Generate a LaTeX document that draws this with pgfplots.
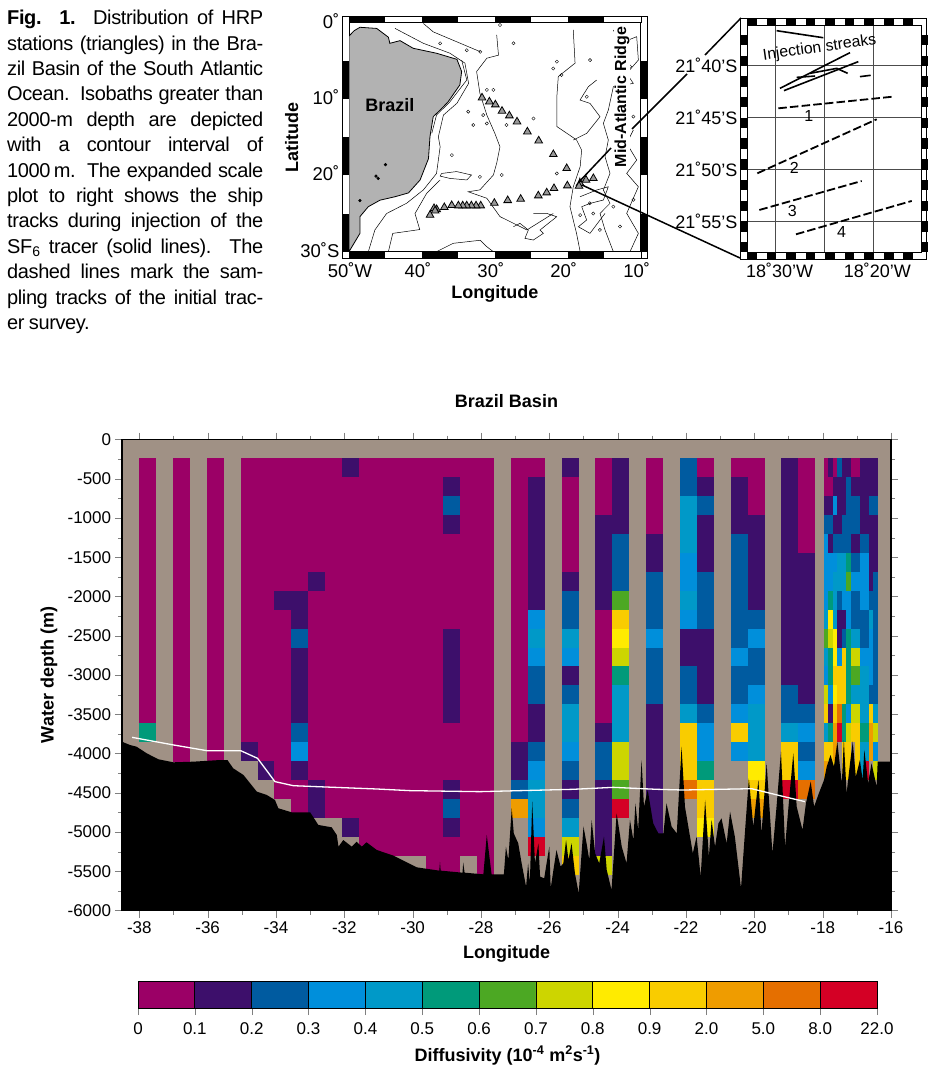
\documentclass[border=0pt]{standalone}
\usepackage{fontspec}
\setmainfont{Liberation Sans}
\newfontfamily\capfont[LetterSpace=-2]{Liberation Sans}
\usepackage{pgfplots}
\pgfplotsset{compat=1.18}
\definecolor{BG}{RGB}{160,145,133}
\definecolor{L0}{RGB}{155,0,102}
\definecolor{L1}{RGB}{61,15,107}
\definecolor{L2}{RGB}{0,91,160}
\definecolor{L3}{RGB}{0,143,219}
\definecolor{L4}{RGB}{0,153,200}
\definecolor{L5}{RGB}{0,154,122}
\definecolor{L6}{RGB}{76,168,35}
\definecolor{L7}{RGB}{205,213,0}
\definecolor{L8}{RGB}{255,235,0}
\definecolor{L9}{RGB}{249,204,0}
\definecolor{L10}{RGB}{239,156,0}
\definecolor{L11}{RGB}{229,111,0}
\definecolor{L12}{RGB}{212,0,37}
\newdimen\rowh \rowh=18.95pt
\pgfdeclareplotmark{cell}{\pgfpathrectangle{\pgfpoint{-8.5pt}{0pt}}{\pgfpoint{17pt}{-\nr\rowh}}\pgfusepathqfill}
\pgfdeclareplotmark{fcell}{\pgfpathrectangle{\pgfpoint{-2.28pt}{0pt}}{\pgfpoint{4.56pt}{-\nr\rowh}}\pgfusepathqfill}
\pgfplotsset{cellclass/.style={scatter, only marks, scatter src=explicit symbolic,
  visualization depends on=value \thisrow{n} \as \nr,
  scatter/classes={0={mark=#1,L0},1={mark=#1,L1},2={mark=#1,L2},3={mark=#1,L3},4={mark=#1,L4},5={mark=#1,L5},6={mark=#1,L6},7={mark=#1,L7},8={mark=#1,L8},9={mark=#1,L9},10={mark=#1,L10},11={mark=#1,L11},12={mark=#1,L12}}}}
\newcommand{\JL}[1]{\hbox to 256pt{#1}}
\begin{document}
\begin{tikzpicture}
\useasboundingbox (0pt,0pt) rectangle (927pt,-1065pt);
% caption
\node[anchor=north west,inner sep=0pt,font=\capfont\fontsize{20pt}{25.4pt}\selectfont] at (7pt,-10pt) {\vbox{\hsize=256pt\baselineskip=25.4pt\parindent=0pt\spaceskip=0.22em plus 1.5em minus 0.12em
\JL{\textbf{Fig. 1.} Distribution of HRP}
\JL{stations (triangles) in the Bra-}
\JL{zil Basin of the South Atlantic}
\JL{Ocean. Isobaths greater than}
\JL{2000-m depth are depicted}
\JL{with a contour interval of}
\JL{1000\,m. The expanded scale}
\JL{plot to right shows the ship}
\JL{tracks during injection of the}
\JL{SF\textsubscript{6} tracer (solid lines). The}
\JL{dashed lines mark the sam-}
\JL{pling tracks of the initial trac-}
\hbox{er survey.}}};
% map
\begin{axis}[at={(349pt,-251.7pt)},anchor=south west,scale only axis,width=291.7pt,height=229pt,
 xmin=-50,xmax=-10,ymin=-30,ymax=0,major tick length=0pt,
 xtick={-50,-40,-30,-20,-10},xticklabels={\hspace{10pt}50˚W,40˚,30˚,20˚,10˚},
 ytick={0,-10,-20,-30},yticklabels={0˚,10˚,20˚,30˚S},
 ticklabel style={font=\fontsize{18.5pt}{18.5pt}\selectfont},
 xticklabel style={yshift=-7pt,xshift=-4pt},yticklabel style={xshift=-6pt,yshift=2pt},
 xlabel={\textbf{Longitude}},ylabel={\textbf{Latitude}},
 label style={font=\fontsize{18pt}{18pt}\selectfont},
 xlabel style={yshift=-1pt},ylabel style={yshift=-5pt},line width=0.6pt]
\addplot[fill=black!30,draw=black,line width=0.8pt] coordinates {(-50,-1.75)(-49.3,-1.05)(-48.5,-.6)(-46.2,-.75)(-44.6,-1.9)(-44.4,-2.7)(-43,-2.35)(-41.2,-3.35)(-38,-4)(-35.2,-4.8)(-34.55,-6.4)(-34.8,-8.15)(-36.4,-10.35)(-37.5,-11.45)(-38.45,-12.3)(-38.9,-14.95)(-39.1,-17.8)(-40.25,-20.6)(-41.85,-22.3)(-43.7,-22.8)(-45.75,-23.25)(-47.35,-24.1)(-48.5,-25.4)(-48.5,-27.6)(-50,-30)(-50,-1.75)};
\addplot[black,line width=0.5pt] coordinates {(-43.7,-.74)(-39.8,-2.7)(-36.15,-4)(-34.1,-5.3)(-33.6,-7.95)(-35.2,-10.55)(-37.05,-12.1)(-37.75,-14.95)(-37.5,-16.25)(-38,-19.75)(-39.8,-21.9)(-42.1,-23.65)(-44.85,-25)(-46.45,-27.15)(-47.35,-30)};
\addplot[black,line width=0.5pt] coordinates {(-34.55,-4.9)(-33.85,-7.5)(-36.15,-10.35)(-38,-12.1)(-38.65,-14.5)};
\addplot[black,line width=0.5pt] coordinates {(-37.5,-20.6)(-39.35,-22.35)(-40.95,-25)(-40.3,-27.1)(-44,-27.6)(-44.6,-30)};
\addplot[black,line width=0.5pt] coordinates {(-29.75,-1.6)(-29.5,-4.25)(-31.1,-4.65)(-32.5,-6.4)(-32.05,-9.25)(-31.1,-12.1)(-30,-14.5)(-29.3,-16.25)(-29.75,-18.4)(-30.2,-19.95)(-32.05,-21.9)(-33.65,-22.15)(-31.1,-23)(-29.3,-25.4)(-25.6,-27.15)(-22,-25)};
\addplot[black,line width=0.5pt] coordinates {(-19.25,-.95)(-19,-5.3)(-21.3,-7.05)(-21.5,-9.7)(-21.5,-13.6)(-18.8,-15.35)(-18.1,-16.7)(-18.3,-18.85)(-19.25,-21.5)(-19.7,-24.1)(-18.8,-27.6)(-18.3,-30)};
\addplot[black,line width=0.5pt] coordinates {(-13.75,-.96)(-12.84,-2.71)(-10.55,-1.83)(-10.32,-4.89)(-11.92,-6.64)(-11.01,-7.95)(-13.75,-8.38)(-14.44,-11.44)(-15.12,-13.19)(-14.44,-15.37)(-14.89,-17.56)(-14.21,-19.74)(-15.12,-21.92)(-14.21,-23.67)(-15.58,-24.98)(-14.89,-27.16)(-13.75,-30)};
\addplot[black,line width=0.5pt] coordinates {(-18.32,-22.8)(-16.04,-21.92)(-14.44,-21.49)(-15.12,-23.23)(-16.95,-23.67)(-18.09,-24.11)(-17.41,-25.85)(-18.55,-26.73)(-16.95,-27.6)(-15.58,-25.85)(-14.89,-24.98)};
\addplot[black,line width=0.5pt] coordinates {(-27.46,-26.73)(-26.55,-26.29)(-25.41,-27.16)(-25.87,-28.25)(-24.72,-28.47)(-23.35,-27.6)(-23.81,-27.16)(-21.52,-25.42)(-22.89,-24.98)(-24.72,-24.98)};
\addplot[black,line width=0.5pt] coordinates {(-11.01,-14.06)(-11.92,-15.81)(-10.55,-17.99)(-11.92,-19.74)(-10.32,-21.49)(-11.92,-24.98)(-10.32,-27.6)(-11.47,-30)};
\addplot[black,line width=0.5pt] coordinates {(-19.24,-15.37)(-17.41,-14.5)(-15.58,-12.32)(-16.95,-10.57)(-18.32,-10.13)(-17.18,-8.38)(-16.04,-7.51)};
\addplot[black,line width=0.5pt] coordinates {(-38,-30)(-35.7,-28.9)(-32,-28.5)(-31.1,-29.35)(-30.2,-30)};
\addplot[black,line width=0.5pt] coordinates {(-37.3,-19.75)(-35.25,-19.5)(-33.2,-19.95)(-33.85,-20.6)(-36.15,-20.4)(-37.5,-20.1)(-37.3,-19.75)};
\addplot[black,line width=0.5pt] coordinates {(-39.8,-.1)(-38.45,-1.2)(-32,-3.8)};
\addplot[only marks,mark=o,mark size=1.6pt,mark options={line width=0.4pt,black}] coordinates {(-32.05,-20.2)(-29.05,-19.95)(-31.1,-8.8)(-30.2,-8.8)(-33.65,-11.65)(-31.6,-12.1)(-31.1,-13.2)(-28.4,-13.4)(-24.7,-12.55)(-21.5,-5.1)(-22,-6)(-20.85,-6.85)(-17.4,-9.7)(-21.5,-19.75)(-35.9,-17.35)(-32.95,-13.4)(-16.5,-25)(-18.3,-25.2)(-17,-23.65)(-15.6,-27.15)(-11.45,-5.75)(-11,-12.3)(-11.9,-7.05)(-13.75,-24.1)(-12.85,-26.7)(-11,-23.2)(-16.95,-4.9)(-27.45,-2.7)(-33.85,-3.6)(-32,-3.8)(-37.5,-2.7)(-29.3,-.3)};
\addplot[only marks,mark=*,mark size=1.3pt,black] coordinates {(-45,-18.6)(-46,-20.4)(-46.3,-20.1)(-48.5,-23.3)};
\addplot[only marks,mark=triangle*,mark size=4.4pt,mark options={fill=black!40,draw=black,line width=0.8pt}] coordinates {(-31.76,-9.83)(-30.75,-10.35)(-29.93,-10.74)(-29.02,-11.57)(-28.01,-12.18)(-26.96,-12.97)(-25.54,-14.28)(-23.99,-15.46)(-21.98,-17.25)(-20.15,-19.08)(-20.06,-21.35)(-18.32,-21.05)(-17.5,-20.61)(-16.49,-20.39)(-18.46,-21.4)(-21.89,-21.7)(-22.89,-22.27)(-24.04,-22.66)(-26.46,-23.1)(-28.24,-23.28)(-30.07,-23.63)(-31.94,-23.97)(-32.58,-23.97)(-33.22,-23.97)(-33.86,-23.97)(-34.41,-23.97)(-35,-23.97)(-35.92,-23.93)(-36.93,-24.19)(-37.98,-24.46)(-38.34,-24.32)(-38.2,-24.63)(-38.89,-25.2)};
\node[font=\bfseries\fontsize{18pt}{18pt}\selectfont] at (axis cs:-44.4,-10.8) {Brazil};
\end{axis}
% inset
\begin{axis}[at={(747pt,-252.3pt)},anchor=south west,scale only axis,width=174.7pt,height=227.3pt,
 xmin=-32.935,xmax=-15.05,ymin=-58.03,ymax=-36.07,major tick length=0pt,line width=0.6pt,
 xtick={-30,-25,-20},xticklabels={18˚30'W,,18˚20'W},
 ytick={-40,-45,-50,-55},yticklabels={21˚40'S,21˚45'S,21˚50'S,21˚55'S},
 ticklabel style={font=\fontsize{18pt}{18pt}\selectfont},
 xticklabel style={yshift=-7pt,xshift=4pt},yticklabel style={xshift=-6pt},
 grid=major,grid style={black!70,line width=0.4pt}]
\addplot[black,line width=1.6pt] coordinates {(-29.9,-36.62)(-25.12,-37.3)};
\addplot[black,line width=1.6pt] coordinates {(-29.56,-42.19)(-22.39,-38.74)};
\addplot[black,line width=1.6pt] coordinates {(-29.15,-42.41)(-21.54,-39.61)};
\addplot[black,line width=1.6pt] coordinates {(-27.85,-41.13)(-25.97,-41)};
\addplot[black,line width=1.6pt] coordinates {(-26.48,-40.74)(-23.75,-40.26)(-22.63,-40.74)};
\addplot[black,line width=1.6pt] coordinates {(-21.37,-41.06)(-20.27,-40.93)};
\addplot[black,line width=1.8pt,dash pattern=on 8.5pt off 3.2pt] coordinates {(-29.73,-44.12)(-17.95,-42.99)};
\addplot[black,line width=1.8pt,dash pattern=on 8.5pt off 3.2pt] coordinates {(-31.88,-50.4)(-19.66,-45.18)};
\addplot[black,line width=1.8pt,dash pattern=on 8.5pt off 3.2pt] coordinates {(-31.67,-53.94)(-21.19,-51.14)};
\addplot[black,line width=1.8pt,dash pattern=on 8.5pt off 3.2pt] coordinates {(-27.92,-56.29)(-16.07,-53.07)};
\node[font=\fontsize{15.8pt}{15.8pt}\selectfont,rotate=8,inner sep=0.5pt] at (axis cs:-25.5,-38.3) {Injection streaks};
\node[font=\fontsize{16pt}{16pt}\selectfont] at (axis cs:-26.6,-44.9) {1};
\node[font=\fontsize{16pt}{16pt}\selectfont] at (axis cs:-28.1,-49.9) {2};
\node[font=\fontsize{16pt}{16pt}\selectfont] at (axis cs:-28.3,-54.05) {3};
\node[font=\fontsize{16pt}{16pt}\selectfont] at (axis cs:-23.25,-56.1) {4};
\end{axis}
% diffusivity cells, under the main axis
\begin{axis}[at={(122pt,-910.5pt)},anchor=south west,scale only axis,width=769pt,height=471pt,
 xmin=-38.506,xmax=-16,ymin=-6000,ymax=0,hide axis]
\addplot[fill=BG,draw=none] coordinates {(-38.506,-6000)(-16,-6000)(-16,0)(-38.506,0)(-38.506,-6000)};
\addplot[cellclass=cell] table[row sep=\\,x expr={-38+0.4945*(\thisrow{c}+0.5)},y expr={-240-241*\thisrow{r}},meta=m] {
c r n m\\
0 0 14 0\\0 14 1 5\\
2 0 16 0\\4 0 16 0\\
6 0 15 0\\6 15 1 1\\
7 0 16 0\\7 16 1 1\\
8 0 7 0\\8 7 1 1\\8 8 10 0\\
9 0 7 0\\9 7 2 1\\9 9 1 2\\9 10 4 1\\9 14 1 2\\9 15 1 3\\9 16 1 1\\9 17 2 0\\
10 0 6 0\\10 6 1 1\\10 7 10 0\\10 17 2 1\\
11 0 19 0\\
12 0 1 1\\12 1 18 0\\12 19 1 1\\
13 0 21 0\\14 0 21 0\\15 0 21 0\\16 0 21 0\\17 0 22 0\\
18 0 1 0\\18 1 1 1\\18 2 1 2\\18 3 1 1\\18 4 5 0\\18 9 5 1\\18 14 3 0\\18 17 1 1\\18 18 1 2\\18 19 1 1\\18 20 2 0\\
19 0 21 0\\20 0 22 0\\
22 0 15 0\\22 15 2 1\\22 17 1 2\\22 18 1 10\\
23 0 1 0\\23 1 7 1\\23 8 1 3\\23 9 1 4\\23 10 1 3\\23 11 2 2\\23 13 2 1\\23 15 1 2\\23 16 1 3\\23 17 2 4\\23 19 1 3\\23 20 1 12\\
25 0 1 1\\25 1 5 0\\25 6 1 1\\25 7 2 2\\25 9 1 4\\25 10 1 3\\25 11 1 1\\25 12 1 2\\25 13 2 4\\25 15 1 3\\25 16 1 2\\25 17 1 1\\25 18 1 2\\25 19 1 4\\25 20 1 7\\25 21 1 9\\
27 0 3 0\\27 3 5 1\\27 8 6 0\\27 14 1 1\\27 15 2 2\\27 17 4 1\\27 21 1 7\\
28 0 4 1\\28 4 3 2\\28 7 1 6\\28 8 1 9\\28 9 1 8\\28 10 1 7\\28 11 1 5\\28 12 3 4\\28 15 2 7\\28 17 1 6\\28 18 1 12\\
30 0 4 0\\30 4 2 1\\30 6 3 2\\30 9 1 3\\30 10 3 2\\30 13 7 1\\
32 0 2 2\\32 2 3 4\\32 5 2 3\\32 7 1 4\\32 8 1 3\\32 9 2 1\\32 11 2 2\\32 13 1 4\\32 14 3 9\\32 17 1 11\\
33 0 1 0\\33 1 1 1\\33 2 1 2\\33 3 3 1\\33 6 3 2\\33 9 4 1\\33 13 1 2\\33 14 2 3\\33 16 1 5\\33 17 2 9\\33 19 1 8\\
35 0 1 0\\35 1 3 1\\35 4 6 2\\35 10 1 3\\35 11 2 2\\35 13 1 3\\35 14 1 9\\35 15 1 3\\
36 0 3 0\\36 3 5 1\\36 8 1 2\\36 9 1 3\\36 10 2 2\\36 12 1 3\\36 13 3 4\\36 16 1 8\\36 17 1 9\\36 18 1 10\\
38 0 12 1\\38 12 2 2\\38 14 1 4\\38 15 2 9\\38 17 1 12\\
39 0 5 0\\39 5 8 1\\39 13 1 2\\39 14 1 3\\39 15 1 2\\39 16 1 3\\39 17 1 11\\
};
\addplot[cellclass=fcell] table[row sep=\\,x expr={-17.96+0.1307*(\thisrow{c}+0.5)},y expr={-240-241*\thisrow{r}},meta=m] {
c r n m\\
0 0 2 0\\0 2 1 1\\0 3 1 2\\0 4 4 3\\0 8 1 4\\0 9 1 6\\0 10 1 4\\0 11 1 3\\0 12 1 7\\0 13 1 9\\0 14 1 4\\0 15 1 9\\0 16 1 10\\
1 0 1 1\\1 1 1 0\\1 2 1 1\\1 3 1 2\\1 4 1 1\\1 5 2 3\\1 7 1 5\\1 8 1 8\\1 9 1 7\\1 10 2 5\\1 12 1 3\\1 13 1 1\\1 14 1 5\\1 15 2 9\\
2 0 1 0\\2 1 1 1\\2 2 1 3\\2 3 1 1\\2 4 1 2\\2 5 1 3\\2 6 3 4\\2 9 2 8\\2 11 1 9\\2 12 1 8\\2 13 1 9\\2 14 2 10\\2 16 1 9\\
3 0 1 2\\3 1 3 1\\3 4 1 2\\3 5 2 4\\3 7 1 2\\3 8 2 1\\3 10 1 3\\3 11 2 9\\3 13 1 11\\3 14 1 12\\
4 0 3 1\\4 3 2 2\\4 5 2 4\\4 7 1 3\\4 8 1 1\\4 9 1 2\\4 10 3 9\\4 13 2 5\\4 15 2 9\\
5 0 1 1\\5 1 4 2\\5 5 1 5\\5 6 1 6\\5 7 2 3\\5 9 4 5\\5 13 1 3\\5 14 1 7\\5 15 2 9\\
6 0 1 0\\6 1 1 1\\6 2 2 2\\6 4 1 1\\6 5 1 2\\6 6 1 3\\6 7 2 2\\6 9 1 4\\6 10 1 7\\6 11 1 6\\6 12 1 4\\6 13 1 7\\6 14 1 9\\
7 0 1 0\\7 1 1 1\\7 2 2 2\\7 4 1 1\\7 5 1 2\\7 6 1 3\\7 7 2 2\\7 9 1 4\\7 10 1 7\\7 11 1 6\\7 12 1 4\\7 13 1 7\\7 14 3 9\\
8 0 4 1\\8 4 1 2\\8 5 3 3\\8 8 2 2\\8 10 1 3\\8 11 3 4\\8 14 1 5\\8 15 2 4\\
9 0 4 1\\9 4 1 2\\9 5 3 3\\9 8 2 2\\9 10 1 3\\9 11 3 4\\9 14 1 5\\9 15 1 4\\9 16 1 12\\
10 0 2 1\\10 2 1 2\\10 3 4 1\\10 7 1 2\\10 8 1 4\\10 9 3 3\\10 12 1 2\\10 13 1 9\\10 14 2 10\\
11 0 2 1\\11 2 1 2\\11 3 3 1\\11 6 7 2\\11 13 1 4\\11 14 1 7\\11 15 1 3\\11 16 1 7\\
};
\end{axis}
% main
\begin{axis}[at={(122pt,-910.5pt)},anchor=south west,scale only axis,width=769pt,height=471pt,
 xmin=-38.506,xmax=-16,ymin=-6000,ymax=0,axis on top,
 tick align=outside,tick pos=both,major tick length=7pt,minor tick length=4pt,
 line width=1.1pt,
 xtick={-38,-36,-34,-32,-30,-28,-26,-24,-22,-20,-18,-16},
 xticklabels={-38,-36,-34,-32,-30,-28,-26,-24,-22,-20,-18,-16},
 ytick={0,-500,-1000,-1500,-2000,-2500,-3000,-3500,-4000,-4500,-5000,-5500,-6000},
 yticklabels={0,-500,-1000,-1500,-2000,-2500,-3000,-3500,-4000,-4500,-5000,-5500,-6000},
 minor x tick num=1,minor y tick num=1,
 ticklabel style={font=\fontsize{17pt}{17pt}\selectfont},
 xlabel={\textbf{Longitude}},ylabel={\textbf{Water depth (m)}},
 title={\textbf{Brazil Basin}},
 label style={font=\fontsize{18pt}{18pt}\selectfont},
 xlabel style={yshift=-5pt},ylabel style={yshift=3pt},
 title style={font=\fontsize{18pt}{18pt}\selectfont,yshift=22pt}]
\addplot[fill=black,draw=none] coordinates {(-38.506,-3850)(-38.27,-3892)(-38.08,-3913)(-37.78,-3998)(-37.44,-4074)(-37,-4112)(-36.42,-4104)(-35.64,-4083)(-35.42,-4083)(-35.25,-4189)(-34.95,-4274)(-34.56,-4486)(-34.27,-4528)(-34.03,-4592)(-33.93,-4698)(-33.54,-4749)(-33,-4749)(-32.76,-4910)(-32.37,-4940)(-32.22,-5038)(-32.17,-5187)(-32.03,-5102)(-31.78,-5187)(-31.64,-5123)(-31.49,-5187)(-31.35,-5131)(-31.05,-5229)(-30.56,-5301)(-29.88,-5450)(-29.22,-5492)(-29.2,-5380)(-29.18,-5492)(-28.54,-5518)(-28.52,-5390)(-28.48,-5518)(-27.93,-5539)(-27.83,-5038)(-27.69,-5539)(-27.62,-5539)(-27.33,-5539)(-27.27,-5187)(-27.2,-5356)(-27.1,-4698)(-27.04,-5017)(-26.91,-5144)(-26.81,-5399)(-26.68,-5696)(-26.62,-5399)(-26.57,-5654)(-26.5,-4613)(-26.42,-5399)(-26.32,-5144)(-26.27,-5569)(-26.15,-5590)(-26.08,-5399)(-26,-5187)(-25.96,-5717)(-25.88,-5484)(-25.79,-5229)(-25.67,-5441)(-25.59,-5399)(-25.51,-5102)(-25.44,-5356)(-25.35,-5144)(-25.25,-5526)(-25.14,-5781)(-25,-4932)(-24.91,-5144)(-24.83,-5356)(-24.76,-4847)(-24.66,-5271)(-24.54,-5399)(-24.4,-5059)(-24.32,-5484)(-24.18,-5738)(-24.03,-4762)(-23.88,-5187)(-23.74,-5399)(-23.64,-4847)(-23.54,-5102)(-23.48,-4635)(-23.4,-4974)(-23.3,-4083)(-23.23,-4677)(-23.12,-4465)(-22.96,-4889)(-22.81,-5017)(-22.66,-5017)(-22.57,-4635)(-22.42,-4932)(-22.27,-5017)(-22.13,-3913)(-22.03,-4677)(-21.8,-5271)(-21.69,-5059)(-21.57,-5569)(-21.44,-4592)(-21.33,-5314)(-21.25,-4847)(-21.15,-5187)(-21.05,-4889)(-20.96,-4826)(-20.81,-5144)(-20.71,-4741)(-20.57,-5059)(-20.39,-5717)(-20.27,-4974)(-20.16,-4316)(-20.03,-4932)(-19.88,-4337)(-19.79,-5017)(-19.64,-4125)(-19.47,-5271)(-19.35,-4677)(-19.22,-3976)(-19.1,-5187)(-19,-4677)(-18.86,-3998)(-18.76,-4677)(-18.59,-4974)(-18.49,-4635)(-18.35,-4358)(-18.25,-4677)(-18.13,-4528)(-17.96,-4337)(-17.88,-4167)(-17.77,-4019)(-17.67,-4167)(-17.57,-3849)(-17.44,-4380)(-17.38,-3828)(-17.3,-4507)(-17.2,-4125)(-17.12,-3849)(-17.03,-4295)(-16.91,-4083)(-16.83,-4337)(-16.78,-3955)(-16.67,-4380)(-16.57,-4125)(-16.42,-4422)(-16.39,-4104)(-16,-4104)(-16,-6000)(-38.506,-6000)(-38.506,-3850)};
\addplot[white,line width=1.3pt] coordinates {(-38.21,-3794)(-37,-3891)(-36.02,-3964)(-35.03,-3964)(-34.54,-4061)(-34.03,-4358)(-33.49,-4410)(-32.81,-4422)(-31.05,-4452)(-30.08,-4473)(-28.03,-4486)(-25.3,-4456)(-24.13,-4431)(-22.86,-4456)(-22.08,-4465)(-20.08,-4448)(-19.25,-4537)(-18.52,-4613)};
\end{axis}
% colour scale
\begin{axis}[at={(138pt,-1008pt)},anchor=south west,scale only axis,width=739pt,height=27pt,
 xmin=0,xmax=13,ymin=0,ymax=1,ytick=\empty,axis on top,line width=1pt,
 xtick={0,1,2,3,4,5,6,7,8,9,10,11,12,13},
 xticklabels={0,0.1,0.2,0.3,0.4,0.5,0.6,0.7,0.8,0.9,2.0,5.0,8.0,22.0},
 tick align=outside,tick pos=bottom,major tick length=7pt,
 ticklabel style={font=\fontsize{17pt}{17pt}\selectfont},xticklabel style={yshift=-4pt},
 xlabel={\textbf{Diffusivity (10\textsuperscript{-4} m\textsuperscript{2}s\textsuperscript{-1})}},
 label style={font=\fontsize{18pt}{18pt}\selectfont},xlabel style={yshift=-4pt}]
\addplot[fill=L0,draw=black,line width=0.8pt] coordinates {(0,0)(1,0)(1,1)(0,1)(0,0)};
\addplot[fill=L1,draw=black,line width=0.8pt] coordinates {(1,0)(2,0)(2,1)(1,1)(1,0)};
\addplot[fill=L2,draw=black,line width=0.8pt] coordinates {(2,0)(3,0)(3,1)(2,1)(2,0)};
\addplot[fill=L3,draw=black,line width=0.8pt] coordinates {(3,0)(4,0)(4,1)(3,1)(3,0)};
\addplot[fill=L4,draw=black,line width=0.8pt] coordinates {(4,0)(5,0)(5,1)(4,1)(4,0)};
\addplot[fill=L5,draw=black,line width=0.8pt] coordinates {(5,0)(6,0)(6,1)(5,1)(5,0)};
\addplot[fill=L6,draw=black,line width=0.8pt] coordinates {(6,0)(7,0)(7,1)(6,1)(6,0)};
\addplot[fill=L7,draw=black,line width=0.8pt] coordinates {(7,0)(8,0)(8,1)(7,1)(7,0)};
\addplot[fill=L8,draw=black,line width=0.8pt] coordinates {(8,0)(9,0)(9,1)(8,1)(8,0)};
\addplot[fill=L9,draw=black,line width=0.8pt] coordinates {(9,0)(10,0)(10,1)(9,1)(9,0)};
\addplot[fill=L10,draw=black,line width=0.8pt] coordinates {(10,0)(11,0)(11,1)(10,1)(10,0)};
\addplot[fill=L11,draw=black,line width=0.8pt] coordinates {(11,0)(12,0)(12,1)(11,1)(11,0)};
\addplot[fill=L12,draw=black,line width=0.8pt] coordinates {(12,0)(13,0)(13,1)(12,1)(12,0)};
\end{axis}
% frames and pointers
\begin{scope}[x=1pt,y=-1pt]
\draw[line width=0.6pt] (342.7,16.4) rectangle (647,258);
\draw[black,line width=6.3pt,dash pattern=on 36.46pt off 36.46pt] (349,19.5)--(640.7,19.5);
\draw[black,line width=6.3pt,dash pattern=on 36.46pt off 36.46pt] (349,254.8)--(640.7,254.8);
\draw[black,line width=6.3pt,dash pattern=on 38.17pt off 38.17pt] (345.8,251.7)--(345.8,22.7);
\draw[black,line width=6.3pt,dash pattern=on 38.17pt off 38.17pt] (643.8,251.7)--(643.8,22.7);
\draw[line width=0.6pt] (740,18.3) rectangle (926.7,259);
\draw[black,line width=6.7pt,dash pattern=on 9.77pt off 9.77pt] (747,21.7)--(921.7,21.7);
\draw[black,line width=6.7pt,dash pattern=on 9.77pt off 9.77pt] (747,255.7)--(921.7,255.7);
\draw[black,line width=6.7pt,dash pattern=on 10.35pt off 10.35pt] (743.5,252.3)--(743.5,25);
\draw[black,line width=6.7pt,dash pattern=on 10.35pt off 10.35pt] (924.5,252.3)--(924.5,25);
\draw[black,line width=1.5pt,->,>=stealth] (611,148)--(578,183);
\draw[black,line width=1.5pt] (632,129)--(687,74);
\draw[black,line width=1.5pt] (705,55)--(741,18);
\draw[black,line width=1.5pt] (582,185)--(740,258);
\node[rotate=90,font=\bfseries\fontsize{16pt}{16pt}\selectfont,fill=white,inner sep=0.5pt] at (622,97) {Mid-Atlantic Ridge};
\end{scope}
\end{tikzpicture}
\end{document}
